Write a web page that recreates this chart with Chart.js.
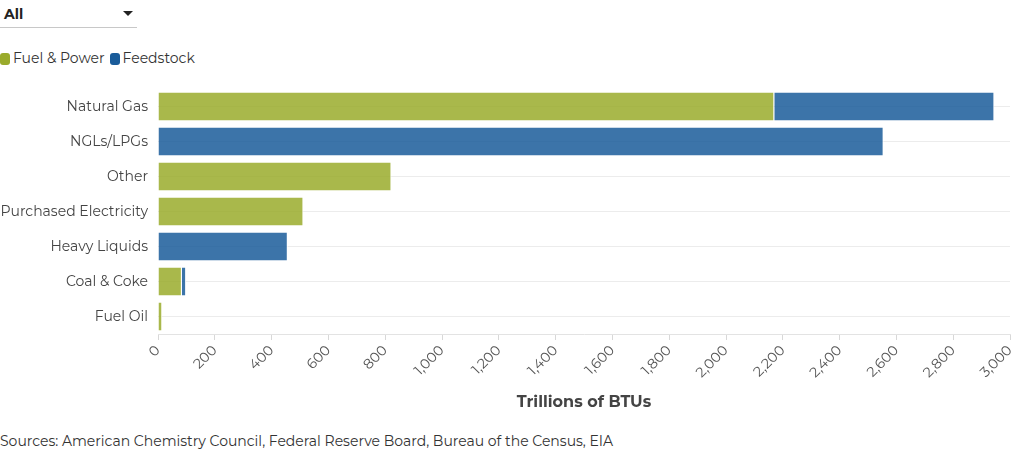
<!DOCTYPE html>
<html>
<head>
<meta charset="utf-8">
<script src="https://cdn.jsdelivr.net/npm/chart.js@4"></script>
<style>
  html, body { margin: 0; padding: 0; background: #fff; }
  body { width: 1020px; height: 452px; position: relative; overflow: hidden;
         font-family: Montserrat, Inter, "Open Sans", sans-serif; color: #333; }
  .picker { position: absolute; left: 0; top: 0; width: 137px; height: 27px;
            border-bottom: 1px solid #c8c8c8; }
  .picker span { position: absolute; left: 4px; top: 5px; font-size: 14px; font-weight: 700; color: #222; }
  .picker i { position: absolute; left: 123px; top: 11px; width: 0; height: 0;
              border-left: 5px solid transparent; border-right: 5px solid transparent;
              border-top: 5px solid #222; }
  .legend { position: absolute; left: 0; top: 49px; font-size: 14px; color: #333; white-space: nowrap; }
  .legend .item { display: inline-block; margin-right: 5px; line-height: 18px; }
  .legend .box { display: inline-block; width: 10px; height: 12px; border-radius: 3px;
                 vertical-align: -2px; margin-right: 3px; }
  .wrap { position: absolute; left: 0; top: 80px; width: 1020px; height: 332px; }
  .source { position: absolute; left: 0; top: 432px; font-size: 14px; color: #333; }
</style>
</head>
<body>
<div class="picker"><span>All</span><i></i></div>
<div class="legend" id="legend"></div>
<div class="wrap"><canvas id="energyChart"></canvas></div>
<div class="source">Sources: American Chemistry Council, Federal Reserve Board, Bureau of the Census, EIA</div>
<script>
const categories = ['Natural Gas', 'NGLs/LPGs', 'Other', 'Purchased Electricity', 'Heavy Liquids', 'Coal & Coke', 'Fuel Oil'];
const fuelPower = [2170, 0, 822, 512, 0, 84, 15];
const feedstock = [775, 2555, 0, 0, 457, 15, 0];
const xTicks = [0, 200, 400, 600, 800, 1000, 1200, 1400, 1600, 1800, 2000, 2200, 2400, 2600, 2800, 3000];
const seriesNames = ['Fuel & Power', 'Feedstock'];

const solidColors = ['#9aab2c', '#1a5c9a'];
const barColors = ['rgba(154,171,44,0.85)', 'rgba(26,92,154,0.85)'];

Chart.defaults.font.family = 'Montserrat, Inter, "Open Sans", sans-serif';
Chart.defaults.color = '#444';

function buildLegend() {
    const legend = document.getElementById('legend');
    legend.innerHTML = seriesNames.map((name, i) =>
        `<span class="item"><span class="box" style="background:${solidColors[i]}"></span>${name}</span>`
    ).join('');
}

const ctx = document.getElementById('energyChart').getContext('2d');
const chart = new Chart(ctx, {
    type: 'bar',
    data: {
        labels: categories,
        datasets: [fuelPower, feedstock].map((values, i) => ({
            label: seriesNames[i],
            data: values,
            backgroundColor: barColors[i],
            borderColor: '#fff',
            borderWidth: { top: 0, bottom: 0, left: 0, right: 1 },
            borderSkipped: false,
            categoryPercentage: 0.8,
            barPercentage: 1
        }))
    },
    options: {
        indexAxis: 'y',
        responsive: true,
        maintainAspectRatio: false,
        animation: false,
        layout: { padding: { left: 0, right: 10, top: 9, bottom: 0 } },
        plugins: {
            tooltip: { enabled: false },
            legend: { display: false }
        },
        scales: {
            x: {
                stacked: true,
                min: 0,
                max: 3000,
                afterBuildTicks: (scale) => { scale.ticks = xTicks.map(v => ({ value: v })); },
                afterFit: (scale) => { scale.height = 78; scale.paddingRight = 0; },
                ticks: {
                    minRotation: 45,
                    maxRotation: 45,
                    padding: 2,
                    font: { size: 14 },
                    color: '#555',
                    callback: (v) => v.toLocaleString('en-US')
                },
                grid: { drawOnChartArea: false, tickLength: 6, color: '#d8d8d8' },
                border: { display: true, color: '#e3e3e3' },
                title: {
                    display: true,
                    text: 'Trillions of BTUs',
                    font: { size: 16, weight: 'bold' },
                    color: '#444',
                    padding: { top: 0, bottom: 0 }
                }
            },
            y: {
                stacked: true,
                afterFit: (scale) => { scale.width = 158; scale.paddingTop = 0; scale.paddingBottom = 0; },
                ticks: { padding: 10, font: { size: 14 }, color: '#444' },
                grid: { offset: false, drawTicks: false, color: '#ececec' },
                border: { display: false }
            }
        }
    }
});

buildLegend();
</script>
</body>
</html>
